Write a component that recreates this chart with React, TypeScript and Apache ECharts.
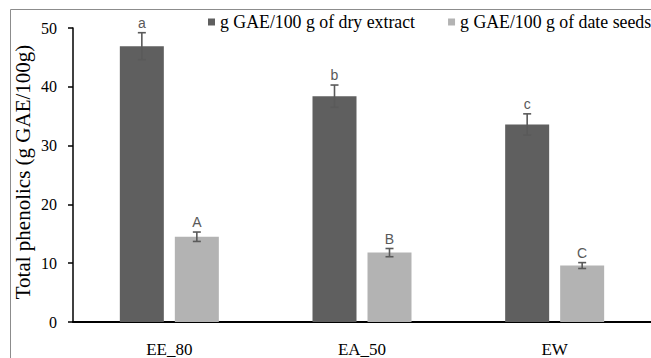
import React, { useEffect, useRef } from "react";
import * as echarts from "echarts";

const categories = ["EE_80", "EA_50", "EW"];
const seriesNames = ["g GAE/100 g of dry extract", "g GAE/100 g of date seeds"];
const dryExtract = [46.9, 38.4, 33.6];
const drySd = [2.3, 1.9, 1.8];
const dateSeeds = [14.5, 11.8, 9.6];
const seedsSd = [0.8, 0.7, 0.5];
const dryLetters = ["a", "b", "c"];
const seedLetters = ["A", "B", "C"];
const yTitle = "Total phenolics (g GAE/100g)";

const SERIF = "'Liberation Serif', 'Times New Roman', serif";
const SANS = "'Liberation Sans', 'Open Sans', sans-serif";
const BAR_W = 44;
const BAR_GAP = 11;

function errorSeries(values: number[], sds: number[], letters: string[], side: number) {
  return {
    type: "custom",
    name: "err" + side,
    silent: true,
    z: 5,
    data: values.map((v, i) => [i, v, sds[i]]),
    renderItem: (params: any, api: any) => {
      const idx = api.value(0);
      const v = api.value(1);
      const sd = api.value(2);
      const letter = letters[params.dataIndex];
      const off = (side * (BAR_W + BAR_GAP)) / 2;
      const top = api.coord([idx, v + sd]);
      const bot = api.coord([idx, v - sd]);
      const x = top[0] + off;
      const stroke = { stroke: "#5a5a5a", lineWidth: 1.6 };
      return {
        type: "group",
        children: [
          { type: "line", shape: { x1: x, y1: top[1], x2: x, y2: bot[1] }, style: stroke },
          { type: "line", shape: { x1: x - 4, y1: top[1], x2: x + 4, y2: top[1] }, style: stroke },
          { type: "line", shape: { x1: x - 4, y1: bot[1], x2: x + 4, y2: bot[1] }, style: stroke },
          {
            type: "text",
            style: {
              x: x,
              y: top[1] - 3,
              text: letter,
              fill: "#595959",
              font: "14px " + SANS,
              align: "center",
              verticalAlign: "bottom",
            },
          },
        ],
      };
    },
  };
}

export default function App() {
  const ref = useRef<HTMLDivElement>(null);
  useEffect(() => {
    if (!ref.current) return;
    const chart = echarts.init(ref.current, null, { renderer: "svg" });
    chart.setOption({
      animation: false,
      backgroundColor: "#ffffff",
      graphic: [
        {
          type: "rect",
          shape: { x: 10.5, y: 9.5, width: 700, height: 400 },
          style: { fill: "none", stroke: "#8c8c8c", lineWidth: 1 },
          silent: true,
          z: -10,
        },
        {
          type: "text",
          x: 23,
          y: 172,
          rotation: Math.PI / 2,
          style: {
            text: yTitle,
            font: "21px " + SERIF,
            fill: "#000",
            align: "center",
            verticalAlign: "middle",
          },
          silent: true,
        },
      ],
      legend: {
        left: 203,
        top: 8,
        width: 600,
        orient: "horizontal",
        itemWidth: 7,
        itemHeight: 7,
        itemGap: 33,
        icon: "rect",
        data: seriesNames,
        textStyle: { fontFamily: SERIF, fontSize: 17.8, color: "#000" },
      },
      grid: { left: 73, top: 28, width: 585, height: 301 },
      xAxis: {
        type: "category",
        data: categories,
        axisLine: { lineStyle: { color: "#000", width: 2 } },
        axisTick: { show: false },
        axisLabel: { fontFamily: SERIF, fontSize: 17, color: "#000", margin: 19 },
      },
      yAxis: {
        type: "value",
        min: 0,
        max: 50,
        interval: 10,
        axisLine: { show: true, lineStyle: { color: "#000", width: 1.5 } },
        axisTick: { show: true, length: 5, lineStyle: { color: "#000", width: 1.5 } },
        splitLine: { show: false },
        axisLabel: { fontFamily: SERIF, fontSize: 16, color: "#000", margin: 16 },
      },
      series: [
        {
          type: "bar",
          name: seriesNames[0],
          data: dryExtract,
          barWidth: BAR_W,
          barGap: (BAR_GAP / BAR_W) * 100 + "%",
          itemStyle: { color: "#5f5f5f" },
        },
        {
          type: "bar",
          name: seriesNames[1],
          data: dateSeeds,
          barWidth: BAR_W,
          barGap: (BAR_GAP / BAR_W) * 100 + "%",
          itemStyle: { color: "#b3b3b3" },
        },
        errorSeries(dryExtract, drySd, dryLetters, -1),
        errorSeries(dateSeeds, seedsSd, seedLetters, 1),
      ],
    });
    return () => chart.dispose();
  }, []);
  return <div ref={ref} style={{ width: 651, height: 358, position: "absolute", left: 0, top: 0 }} />;
}
